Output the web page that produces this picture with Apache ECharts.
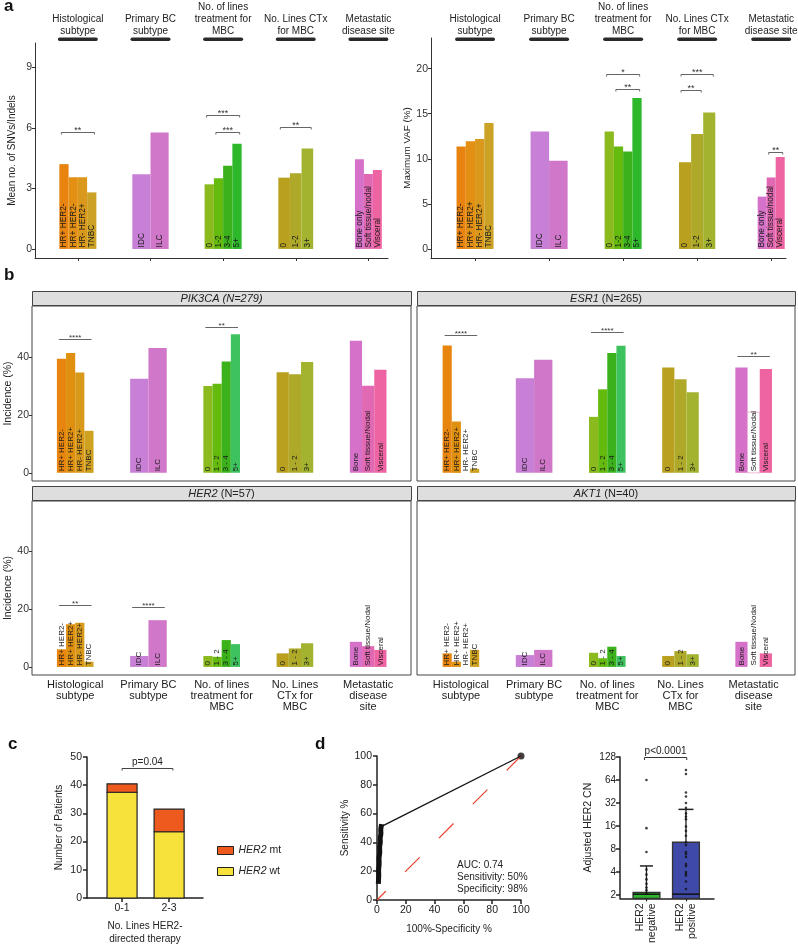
<!DOCTYPE html>
<html><head><meta charset="utf-8">
<script src="https://cdn.jsdelivr.net/npm/echarts@6/dist/echarts.min.js"></script>
<style>html,body{margin:0;padding:0;background:#fff}#c{width:798px;height:946px}</style>
</head><body><div id="c"></div>
<script>
const FONT = '"Liberation Sans", Arial, Helvetica, sans-serif';

// ================= DATA =================
const groupHeadersA = ['Histological\nsubtype', 'Primary BC\nsubtype', 'No. of lines\ntreatment for\nMBC', 'No. Lines CTx\nfor MBC', 'Metastatic\ndisease site'];
const groupLabelsB = ['Histological\nsubtype', 'Primary BC\nsubtype', 'No. of lines\ntreatment for\nMBC', 'No. Lines\nCTx for\nMBC', 'Metastatic\ndisease\nsite'];

const catsSnv = [['HR+ HER2-', 'HR+ HER2-', 'HR- HER2+', 'TNBC'], ['IDC', 'ILC'], ['0', '1-2', '3-4', '5+'], ['0', '1-2', '3+'], ['Bone only', 'Soft tissue/nodal', 'Visceral']];
const catsVaf = [['HR+ HER2-', 'HR+ HER2+', 'HR- HER2+', 'TNBC'], ['IDC', 'ILC'], ['0', '1-2', '3-4', '5+'], ['0', '1-2', '3+'], ['Bone only', 'Soft tissue/nodal', 'Visceral']];
const catsGene = [['HR+ HER2-', 'HR+ HER2+', 'HR- HER2+', 'TNBC'], ['IDC', 'ILC'], ['0', '1 - 2', '3 - 4', '5+'], ['0', '1 - 2', '3+'], ['Bone', 'Soft tissue/Nodal', 'Visceral']];

const snvValues = [[4.2, 3.55, 3.55, 2.8], [3.7, 5.77], [3.2, 3.5, 4.12, 5.21], [3.53, 3.75, 4.98], [4.44, 3.71, 3.91]];
const vafValues = [[11.37, 11.96, 12.19, 13.96], [13.03, 9.78], [13.03, 11.37, 10.81, 16.74], [9.63, 12.74, 15.15], [5.81, 7.93, 10.19]];
const pik3caValues = [[39.3, 41.3, 34.6, 14.5], [32.4, 43.0], [29.9, 30.7, 38.4, 47.8], [34.7, 34.0, 38.2], [45.5, 30.0, 35.5]];
const esr1Values = [[43.9, 17.7, 0, 1.4], [32.6, 39.0], [19.3, 28.8, 41.3, 43.8], [36.3, 32.3, 27.8], [36.3, 20.9, 35.8]];
const her2Values = [[6.1, 14.8, 15.3, 1.8], [3.8, 16.2], [3.8, 3.5, 9.3, 7.9], [4.7, 6.4, 8.2], [8.7, 7.2, 5.9]];
const akt1Values = [[4.7, 1.8, 0, 5.9], [4.1, 5.9], [4.9, 3.0, 7.0, 3.8], [3.8, 5.5, 4.4], [8.7, 0, 4.7]];

// significance brackets: [group, firstBar, lastBar, height, label]
const snvSig = [[0, 0, 3, 5.8, '**'], [2, 0, 3, 6.63, '***'], [2, 1, 3, 5.8, '***'], [3, 0, 2, 6.04, '**']];
const vafSig = [[2, 0, 3, 19.37, '*'], [2, 1, 3, 17.74, '**'], [3, 0, 2, 19.37, '***'], [3, 0, 1, 17.67, '**'], [4, 1, 2, 10.78, '**']];
const pik3caSig = [[0, 0, 3, 46.1, '****'], [2, 0, 3, 50.4, '**']];
const esr1Sig = [[0, 0, 3, 47.4, '****'], [2, 0, 3, 48.7, '****'], [4, 0, 2, 40.4, '**']];
const her2Sig = [[0, 0, 3, 21.4, '**'], [1, 0, 1, 20.8, '****']];
const akt1Sig = [];

const stripGenes = ['PIK3CA', 'ESR1', 'HER2', 'AKT1'];
const stripN = [279, 265, 57, 40];

// panel c
const cCats = ['0-1', '2-3'];
const her2Wt = [37.5, 23.5];
const her2Mt = [3.0, 8.0];

// panel d ROC
const rocClusterFpr = [1.0, 1.2, 1.1, 1.5, 1.4, 1.9, 1.8, 2.3, 2.2, 2.7, 2.6, 2.9];
const rocClusterSens = [13, 17, 21, 25, 29, 33, 37, 40, 43, 46, 49, 51];
const rocTailFpr = [2.9, 100];
const rocTailSens = [51, 100];
const rocText = ['AUC: 0.74', 'Sensitivity: 50%', 'Specificity: 98%'];

// panel d CN bars
const cnGroups = ['HER2\nnegative', 'HER2\npositive'];
const cnMean = [2.17, 9.8];
const cnMedian = [2.05, 2.05];
const cnUpper = [4.8, 26.4];
const cnNegPoints = [64, 15, 7.3, 4.3, 3.7, 3.2, 2.8, 2.5, 2.3, 2.1];
const cnPosPoints = [86.6, 76.6, 44, 39, 32, 27.6, 23.4, 21.2, 19.6, 15.7, 13.8, 11.9, 9.8, 9.0, 7.3, 6.9, 6.3, 5.1, 4.8, 4.0, 3.8, 3.6, 3.0, 2.4];

// ================= STYLE =================
const colorsA = [['#E8830F', '#E38F14', '#DA991C', '#CCA226'], ['#C87FD6', '#D077C9'], ['#8BBA1F', '#64BA0D', '#3BB11C', '#2DB72B'], ['#B9A01F', '#AEA929', '#A3B32F'], ['#D671C9', '#E169B3', '#EE63A1']];
const colorsB = [['#E8850E', '#E0900F', '#D8991A', '#CFA121'], ['#C87FD6', '#D077C9'], ['#8BBA1F', '#64BA0D', '#3BB11C', '#3EC260'], ['#B9A01F', '#AEA929', '#A3B32F'], ['#D671C9', '#E169B3', '#EE63A1']];
const gwA = [0.51, 0.5, 0.51, 0.48, 0.37];
const gwA2 = [0.5, 0.5, 0.5, 0.49, 0.365];
const gwB = [0.5, 0.5, 0.5, 0.5, 0.5];

const chart = echarts.init(document.getElementById('c'), null, { renderer: 'canvas', width: 798, height: 946 });

function barItems(cats, values, colors, gw, hollow) {
  const items = [];
  values.forEach((grp, g) => grp.forEach((v, i) => items.push({
    g: g + 1, i, n: grp.length, v, label: cats[g][i], color: colors[g][i], gw: gw[g],
    hollow: !!(hollow && hollow[0] === g && hollow[1] === i)
  })));
  return items;
}
function barSeries(gi, items, fontSize) {
  return {
    type: 'custom', xAxisIndex: gi, yAxisIndex: gi, silent: true, clip: false, z: 3,
    data: items.map(it => [it.g, it.v]),
    renderItem(params, api) {
      const it = items[params.dataIndex];
      const xl = it.g - it.gw / 2 + it.i * it.gw / it.n;
      const xr = xl + it.gw / it.n;
      const p0 = api.coord([xl, it.v]);
      const p1 = api.coord([xr, 0]);
      const ch = [];
      if (it.v > 0) ch.push({
        type: 'rect', shape: { x: p0[0], y: p0[1], width: p1[0] - p0[0], height: p1[1] - p0[1] },
        style: it.hollow ? { fill: '#fff', stroke: '#E8A8CC', lineWidth: 0.8 } : { fill: it.color }
      });
      ch.push({
        type: 'text', x: (p0[0] + p1[0]) / 2, y: p1[1] - 1.5, rotation: Math.PI / 2,
        style: { text: it.label, fill: '#1a1a1a', font: fontSize + 'px ' + FONT, textAlign: 'left', textVerticalAlign: 'middle', align: 'left', verticalAlign: 'middle' }
      });
      return { type: 'group', children: ch };
    }
  };
}
function sigSeries(gi, sigs, cats, gw, tickLen, fontSize) {
  return {
    type: 'custom', xAxisIndex: gi, yAxisIndex: gi, silent: true, clip: false, z: 4,
    data: sigs.map(s => [s[0] + 1, s[3]]),
    renderItem(params, api) {
      const s = sigs[params.dataIndex];
      const g = s[0], n = cats[g].length, w = gw[g];
      const xa = g + 1 - w / 2 + s[1] * w / n;
      const xb = g + 1 - w / 2 + (s[2] + 1) * w / n;
      const a = api.coord([xa, s[3]]), b = api.coord([xb, s[3]]);
      const x0 = a[0] + 2, x1 = b[0] - 2, y = Math.round(a[1]) + 0.5;
      return {
        type: 'group', children: [
          { type: 'polyline', shape: { points: [[x0, y + tickLen], [x0, y], [x1, y], [x1, y + tickLen]] }, style: { stroke: '#555', lineWidth: 0.9, fill: null } },
          { type: 'text', x: (x0 + x1) / 2, y: y + 2.5, style: { text: s[4], fill: '#333', font: fontSize + 'px ' + FONT, textAlign: 'center', textVerticalAlign: 'bottom', align: 'center', verticalAlign: 'bottom' } }
        ]
      };
    }
  };
}
function stackSeries(name, gi, base, vals, color) {
  return {
    name, type: 'custom', xAxisIndex: gi, yAxisIndex: gi, silent: true, clip: false,
    itemStyle: { color, borderColor: '#222', borderWidth: 1.2 },
    data: vals.map((v, i) => [i, base[i] + v]),
    renderItem(params, api) {
      const i = params.dataIndex;
      const tl = api.coord([i - 0.319, base[i] + vals[i]]);
      const br = api.coord([i + 0.319, base[i]]);
      return { type: 'rect', shape: { x: tl[0], y: tl[1], width: br[0] - tl[0], height: br[1] - tl[1] }, style: { fill: color, stroke: '#222', lineWidth: 1.2 } };
    }
  };
}

const grids = [
  { left: 35, top: 43, width: 353, height: 215 },   // 0 a-left
  { left: 431, top: 38, width: 355, height: 220 },  // 1 a-right
  { left: 32, top: 306, width: 379, height: 175, show: true, borderColor: '#444', borderWidth: 1, backgroundColor: '#fff' }, // 2
  { left: 417, top: 306, width: 378, height: 175, show: true, borderColor: '#444', borderWidth: 1, backgroundColor: '#fff' }, // 3
  { left: 32, top: 501, width: 379, height: 174, show: true, borderColor: '#444', borderWidth: 1, backgroundColor: '#fff' }, // 4
  { left: 417, top: 501, width: 378, height: 174, show: true, borderColor: '#444', borderWidth: 1, backgroundColor: '#fff' }, // 5
  { left: 87, top: 757, width: 116, height: 142 },  // 6 c
  { left: 377, top: 756, width: 144, height: 144 }, // 7 roc
  { left: 620, top: 757, width: 94, height: 143 }   // 8 cn
];

const axisTxt = { color: '#333', fontFamily: FONT, fontSize: 10.5 };
function xBars(gi, min, max, opts) {
  return {
    type: 'value', gridIndex: gi, min, max,
    axisLine: { show: opts.line, onZero: false, lineStyle: { color: '#333', width: 1 } },
    splitLine: { show: false },
    axisTick: { show: !!opts.ticks, customValues: [1, 2, 3, 4, 5], length: 3, lineStyle: { color: '#333' } },
    axisLabel: opts.labels ? {
      show: true, customValues: [1, 2, 3, 4, 5], formatter: v => opts.labels[Math.round(v) - 1],
      color: '#222', fontFamily: FONT, fontSize: 11, lineHeight: 11.3, margin: 4
    } : { show: false }
  };
}
function yVal(gi, min, max, ticks, opts) {
  return {
    type: 'value', gridIndex: gi, min, max,
    name: opts.name || '', nameLocation: 'middle', nameGap: opts.nameGap || 20,
    nameTextStyle: { color: '#222', fontFamily: FONT, fontSize: opts.nameSize || 10.5 },
    axisLine: { show: opts.line !== false, onZero: false, lineStyle: { color: '#333', width: 1 } },
    splitLine: { show: false },
    axisTick: { show: opts.labels !== false, customValues: ticks, length: 3, lineStyle: { color: '#333' } },
    axisLabel: opts.labels === false ? { show: false } : Object.assign({ customValues: ticks, margin: 3 }, axisTxt)
  };
}

const xAxes = [
  xBars(0, 0.41, 5.27, { line: true, ticks: true }),
  xBars(1, 0.405, 5.2, { line: true, ticks: true }),
  xBars(2, 0.41, 5.585, { line: false }),
  xBars(3, 0.40, 5.565, { line: false }),
  xBars(4, 0.41, 5.585, { line: false, labels: groupLabelsB }),
  xBars(5, 0.40, 5.565, { line: false, labels: groupLabelsB }),
  { // c
    type: 'value', gridIndex: 6, min: -0.745, max: 1.72,
    name: 'No. Lines HER2-\ndirected therapy', nameLocation: 'middle', nameGap: 22,
    nameTextStyle: { color: '#222', fontFamily: FONT, fontSize: 10, lineHeight: 12.5 },
    axisLine: { onZero: false, lineStyle: { color: '#222', width: 1.5 } }, splitLine: { show: false },
    axisTick: { customValues: [0, 1], length: 4, lineStyle: { color: '#222', width: 1.5 } },
    axisLabel: { customValues: [0, 1], formatter: v => cCats[Math.round(v)], color: '#222', fontFamily: FONT, fontSize: 10.5, margin: 5 }
  },
  { // roc
    type: 'value', gridIndex: 7, min: 0, max: 100, interval: 20,
    name: '100%-Specificity %', nameLocation: 'middle', nameGap: 24,
    nameTextStyle: { color: '#222', fontFamily: FONT, fontSize: 10 },
    axisLine: { onZero: false, lineStyle: { color: '#222', width: 1.5 } }, splitLine: { show: false },
    axisTick: { length: 4, lineStyle: { color: '#222', width: 1.5 } },
    axisLabel: { color: '#222', fontFamily: FONT, fontSize: 10.5, margin: 5 }
  },
  { // cn
    type: 'value', gridIndex: 8, min: -0.67, max: 1.71,
    axisLine: { onZero: false, lineStyle: { color: '#222', width: 1.5 } }, splitLine: { show: false },
    axisTick: { customValues: [0, 1], length: 3, lineStyle: { color: '#222', width: 1.2 } },
    axisLabel: { customValues: [0, 1], formatter: v => cnGroups[Math.round(v)], rotate: 90, color: '#222', fontFamily: FONT, fontSize: 10.5, lineHeight: 12, margin: 5 }
  }
];

const yAxes = [
  yVal(0, -0.45, 10.2, [0, 3, 6, 9], { name: 'Mean no. of SNVs/Indels', nameGap: 18, nameSize: 10 }),
  yVal(1, -1, 23.4, [0, 5, 10, 15, 20], { name: 'Maximum VAF (%)', nameGap: 19, nameSize: 9.8 }),
  yVal(2, -2.8, 57.5, [0, 20, 40], { name: 'Incidence (%)', nameGap: 15, line: false }),
  yVal(3, -2.8, 57.5, [0, 20, 40], { labels: false, line: false }),
  yVal(4, -2.8, 57.5, [0, 20, 40], { name: 'Incidence (%)', nameGap: 15, line: false }),
  yVal(5, -2.8, 57.5, [0, 20, 40], { labels: false, line: false }),
  { // c
    type: 'value', gridIndex: 6, min: 0, max: 50, interval: 10,
    name: 'Number of Patients', nameLocation: 'middle', nameGap: 23,
    nameTextStyle: { color: '#222', fontFamily: FONT, fontSize: 10 },
    axisLine: { show: true, onZero: false, lineStyle: { color: '#222', width: 1.5 } }, splitLine: { show: false },
    axisTick: { show: true, length: 4, lineStyle: { color: '#222', width: 1.5 } },
    axisLabel: { color: '#222', fontFamily: FONT, fontSize: 10.5, margin: 5 }
  },
  { // roc
    type: 'value', gridIndex: 7, min: 0, max: 100, interval: 20,
    name: 'Sensitivity %', nameLocation: 'middle', nameGap: 26,
    nameTextStyle: { color: '#222', fontFamily: FONT, fontSize: 10 },
    axisLine: { show: true, onZero: false, lineStyle: { color: '#222', width: 1.5 } }, splitLine: { show: false },
    axisTick: { show: true, length: 4, lineStyle: { color: '#222', width: 1.5 } },
    axisLabel: { color: '#222', fontFamily: FONT, fontSize: 10.5, margin: 5 }
  },
  { // cn
    type: 'log', logBase: 2, gridIndex: 8, min: 1.81, max: 128,
    name: 'Adjusted HER2 CN', nameLocation: 'middle', nameGap: 26,
    nameTextStyle: { color: '#222', fontFamily: FONT, fontSize: 10.5 },
    axisLine: { show: true, onZero: false, lineStyle: { color: '#222', width: 1.5 } }, splitLine: { show: false },
    axisTick: { show: true, customValues: [2, 4, 8, 16, 32, 64, 128], length: 4, lineStyle: { color: '#222', width: 1.5 } },
    axisLabel: { customValues: [2, 4, 8, 16, 32, 64, 128], color: '#222', fontFamily: FONT, fontSize: 10, margin: 4 }
  }
];

const series = [
  barSeries(0, barItems(catsSnv, snvValues, colorsA, gwA), 8.3),
  sigSeries(0, snvSig, catsSnv, gwA, 2, 9),
  barSeries(1, barItems(catsVaf, vafValues, colorsA, gwA2), 8.3),
  sigSeries(1, vafSig, catsVaf, gwA2, 2, 9),
  barSeries(2, barItems(catsGene, pik3caValues, colorsB, gwB), 8),
  sigSeries(2, pik3caSig, catsGene, gwB, 0, 8),
  barSeries(3, barItems(catsGene, esr1Values, colorsB, gwB, [4, 1]), 8),
  sigSeries(3, esr1Sig, catsGene, gwB, 0, 8),
  barSeries(4, barItems(catsGene, her2Values, colorsB, gwB), 8),
  sigSeries(4, her2Sig, catsGene, gwB, 0, 8),
  barSeries(5, barItems(catsGene, akt1Values, colorsB, gwB), 8),
  sigSeries(5, akt1Sig, catsGene, gwB, 0, 8),
  // panel c
  stackSeries('HER2 wt', 6, [0, 0], her2Wt, '#F7E23C'),
  stackSeries('HER2 mt', 6, her2Wt, her2Mt, '#EE5A1E'),
  {
    type: 'custom', xAxisIndex: 6, yAxisIndex: 6, silent: true, clip: false,
    data: [[0, 46.2]],
    renderItem(params, api) {
      const a = api.coord([0, 46.2]), b = api.coord([1.08, 46.2]);
      const y = Math.round(a[1]) + 0.5;
      return {
        type: 'group', children: [
          { type: 'polyline', shape: { points: [[a[0], y + 2], [a[0], y], [b[0], y], [b[0], y + 2]] }, style: { stroke: '#444', lineWidth: 1, fill: null } },
          { type: 'text', x: (a[0] + b[0]) / 2, y: y - 1, style: { text: 'p=0.04', fill: '#222', font: '10px ' + FONT, textAlign: 'center', textVerticalAlign: 'bottom', align: 'center', verticalAlign: 'bottom' } }
        ]
      };
    }
  },
  // ROC
  {
    type: 'line', xAxisIndex: 7, yAxisIndex: 7, data: [[0, 0], [100, 100]], symbol: 'none', silent: true,
    lineStyle: { color: '#E8402A', width: 1.2, type: [20.6, 27.3], dashOffset: 8.2 }
  },
  {
    type: 'line', xAxisIndex: 7, yAxisIndex: 7, data: rocTailFpr.map((x, i) => [x, rocTailSens[i]]), symbol: 'none', silent: true,
    lineStyle: { color: '#111', width: 1.3 }
  },
  {
    type: 'line', xAxisIndex: 7, yAxisIndex: 7, data: rocClusterFpr.map((x, i) => [x, rocClusterSens[i]]), symbol: 'none', silent: true,
    lineStyle: { color: '#111', width: 5, cap: 'square' }
  },
  {
    type: 'scatter', xAxisIndex: 7, yAxisIndex: 7, data: [[100, 100]], symbolSize: 7, silent: true,
    itemStyle: { color: '#111' }
  },
  // CN bars
  {
    type: 'custom', xAxisIndex: 8, yAxisIndex: 8, silent: true, clip: false,
    data: cnMean.map((v, i) => [i, v]),
    renderItem(params, api) {
      const i = params.dataIndex;
      const colors = ['#2DB52D', '#3F4AA8'];
      const capHalf = [0.165, 0.19][i];
      const tl = api.coord([i - 0.34, cnMean[i]]);
      const br = api.coord([i + 0.34, 1.81]);
      const md = api.coord([i, cnMedian[i]]);
      const up = api.coord([i, cnUpper[i]]);
      const cl = api.coord([i - capHalf, cnUpper[i]]);
      const cr = api.coord([i + capHalf, cnUpper[i]]);
      return {
        type: 'group', children: [
          { type: 'line', shape: { x1: up[0], y1: tl[1], x2: up[0], y2: up[1] }, style: { stroke: '#222', lineWidth: 1.3 } },
          { type: 'line', shape: { x1: cl[0], y1: cl[1], x2: cr[0], y2: cr[1] }, style: { stroke: '#222', lineWidth: 1.5 } },
          { type: 'rect', shape: { x: tl[0], y: tl[1], width: br[0] - tl[0], height: br[1] - tl[1] }, style: { fill: colors[i], stroke: '#333', lineWidth: 1.3 } },
          { type: 'line', shape: { x1: tl[0], y1: md[1], x2: br[0], y2: md[1] }, style: { stroke: '#111', lineWidth: 1.5 } }
        ]
      };
    }
  },
  {
    type: 'scatter', xAxisIndex: 8, yAxisIndex: 8, symbolSize: 2.6, silent: true, z: 5,
    data: cnNegPoints.map(v => [0, v]).concat(cnPosPoints.map(v => [1, v])),
    itemStyle: { color: '#111' }
  },
  {
    type: 'custom', xAxisIndex: 8, yAxisIndex: 8, silent: true, clip: false,
    data: [[0, 127]],
    renderItem(params, api) {
      const a = api.coord([-0.05, 127]), b = api.coord([1.02, 127]);
      const y = Math.round(a[1]) + 0.5;
      return {
        type: 'group', children: [
          { type: 'polyline', shape: { points: [[a[0], y + 2.5], [a[0], y], [b[0], y], [b[0], y + 2.5]] }, style: { stroke: '#333', lineWidth: 1, fill: null } },
          { type: 'text', x: (a[0] + b[0]) / 2, y: y - 1, style: { text: 'p<0.0001', fill: '#222', font: '10px ' + FONT, textAlign: 'center', textVerticalAlign: 'bottom', align: 'center', verticalAlign: 'bottom' } }
        ]
      };
    }
  }
];

chart.setOption({
  animation: false,
  grid: grids,
  xAxis: xAxes,
  yAxis: yAxes,
  series,
  legend: {
    data: [{ name: 'HER2 mt', icon: 'rect', itemStyle: { color: '#EE5A1E', borderColor: '#222', borderWidth: 1 } },
           { name: 'HER2 wt', icon: 'rect', itemStyle: { color: '#F7E23C', borderColor: '#222', borderWidth: 1 } }],
    orient: 'vertical', left: 212, top: 840, itemWidth: 16, itemHeight: 8, itemGap: 10,
    selectedMode: false,
    formatter: n => '{i|HER2}' + n.slice(4),
    textStyle: { color: '#222', fontFamily: FONT, fontSize: 10.5, rich: { i: { fontStyle: 'italic', fontFamily: FONT, fontSize: 10.5, color: '#222' } } }
  }
});

// ---------- decorations (headers, strips, letters, text) ----------
const graphics = [];
function letter(t, x, yBase) {
  graphics.push({ type: 'text', x, y: yBase + 3.5, style: { text: t, font: 'bold 17px ' + FONT, fill: '#111', textVerticalAlign: 'bottom', verticalAlign: 'bottom' } });
}
letter('a', 4, 11); letter('b', 4, 280); letter('c', 8, 749); letter('d', 315, 749);

[0, 1].forEach(ax => {
  groupHeadersA.forEach((h, g) => {
    const x = chart.convertToPixel({ xAxisIndex: ax }, g + 1);
    graphics.push({ type: 'text', x, y: 37.5, style: { text: h, font: '10px ' + FONT, fill: '#222', lineHeight: 12, textAlign: 'center', textVerticalAlign: 'bottom', align: 'center', verticalAlign: 'bottom' } });
    graphics.push({ type: 'rect', shape: { x: x - 20, y: 37.6, width: 40, height: 3.4, r: 1.7 }, style: { fill: '#2a2a2a' } });
  });
});

[2, 3, 4, 5].forEach((gi, k) => {
  const gr = grids[gi];
  graphics.push({ type: 'rect', shape: { x: gr.left + 0.5, y: gr.top - 14.5, width: gr.width, height: 14 }, style: { fill: '#DEDEDE', stroke: '#444', lineWidth: 1 } });
  const allItalic = k === 0;
  graphics.push({
    type: 'text', x: gr.left + gr.width / 2, y: gr.top - 7.5,
    style: {
      text: '{i|' + stripGenes[k] + '}' + (allItalic ? '{i| (N=' + stripN[k] + ')}' : '{n| (N=' + stripN[k] + ')}'),
      textAlign: 'center', textVerticalAlign: 'middle', align: 'center', verticalAlign: 'middle',
      rich: { i: { fontStyle: 'italic', fontFamily: FONT, fontSize: 11, fill: '#222', color: '#222' }, n: { fontFamily: FONT, fontSize: 11, fill: '#222', color: '#222' } }
    }
  });
});

graphics.push({ type: 'text', x: 457, y: 859, style: { text: rocText.join('\n'), font: '10px ' + FONT, fill: '#222', lineHeight: 12, textAlign: 'left', textVerticalAlign: 'top', align: 'left', verticalAlign: 'top' } });

chart.setOption({ graphic: graphics });
</script></body></html>
